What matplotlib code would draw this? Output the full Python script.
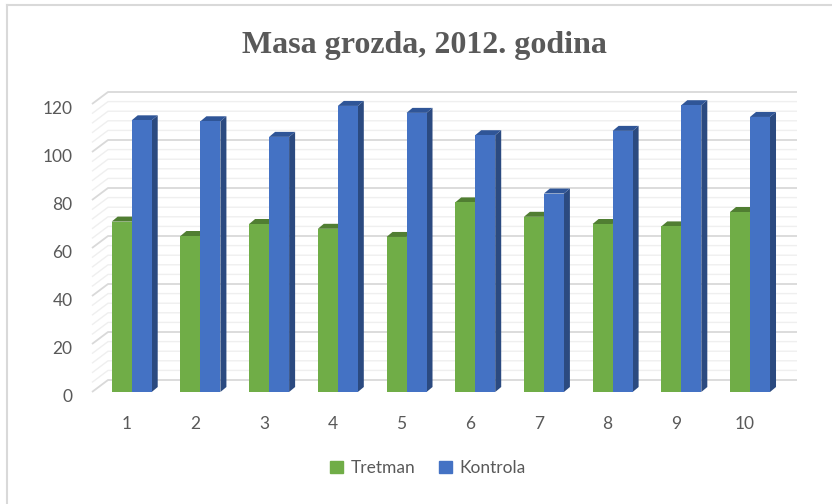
import matplotlib.pyplot as plt
import matplotlib.lines as mlines
import matplotlib.patches as mpatches
from matplotlib.transforms import ScaledTranslation
import numpy as np

# data
categories = ['1', '2', '3', '4', '5', '6', '7', '8', '9', '10']
tretman = [71, 65, 70, 68, 64.6, 79, 73, 70, 69, 75]
kontrola = [113.2, 112.8, 106.3, 119.2, 116.3, 107, 82.7, 108.8, 119.5, 114.6]

green, green_top = '#70AD47', '#507E32'
blue, blue_top, blue_side = '#4472C4', '#2F5597', '#2B4A80'
text_col = '#595959'

fig = plt.figure(figsize=(8.32, 5.04), dpi=100)
W, H = 832, 504

# axes placed in pixels: left 92, right 797, y=0 at 392 from top, 2.4 px per unit
ymax = 125
ax = fig.add_axes([92 / W, (H - 392) / H, 705 / W, 2.4 * ymax / H])
xlo, xhi = 0.422, 10.684
ax.set_xlim(xlo, xhi)
ax.set_ylim(0, ymax)

px_x = 1 / 68.7   # data units per pixel in x
px_y = 1 / 2.4    # data units per pixel in y

# back wall gridlines with slanted side wall part
wall_dx, wall_dy = 16 * px_x, 12 * px_y
for v in range(0, 121, 4):
    major = v % 20 == 0
    col = '#D9D9D9' if major else '#EFEFEF'
    lw = 1.3 if major else 1.0
    ax.plot([xlo, xlo + wall_dx, xhi], [v, v + wall_dy, v + wall_dy],
            color=col, lw=lw, zorder=0, clip_on=False, solid_capstyle='butt')

x = np.arange(1, len(categories) + 1)
w = 20 * px_x
ddx, ddy = 6 * px_x, 5 * px_y


def bar3d(xl, h, front, top, side):
    xr = xl + w
    ax.add_patch(mpatches.Polygon([(xr, 0), (xr, h), (xr + ddx, h + ddy), (xr + ddx, ddy)],
                                  closed=True, fc=side, ec='none', zorder=2))
    ax.add_patch(mpatches.Polygon([(xl, h), (xr, h), (xr + ddx, h + ddy), (xl + ddx, h + ddy)],
                                  closed=True, fc=top, ec='none', zorder=2))
    ax.add_patch(mpatches.Rectangle((xl, 0), w, h, fc=front, ec='none', zorder=3))


for i in range(len(categories)):
    bar3d(x[i] - w, tretman[i], green, green_top, green_top)
    bar3d(x[i], kontrola[i], blue, blue_top, blue_side)

for s in ax.spines.values():
    s.set_visible(False)

ax.set_xticks(x)
ax.set_xticklabels(categories)
ax.set_yticks(range(0, 121, 20))
ax.tick_params(length=0, colors=text_col, labelsize=12.5)
ax.tick_params(axis='x', pad=17)
ax.tick_params(axis='y', pad=14)
for lab in ax.get_xticklabels() + ax.get_yticklabels():
    lab.set_fontfamily('Lato')
for lab in ax.get_xticklabels():
    lab.set_transform(lab.get_transform() + ScaledTranslation(-5 / 100, 0, fig.dpi_scale_trans))
for lab in ax.get_yticklabels():
    lab.set_transform(lab.get_transform() + ScaledTranslation(0, -3 / 100, fig.dpi_scale_trans))

fig.text(424 / W, 1 - 45 / H, 'Masa grozda, 2012. godina', ha='center', va='center',
         fontsize=23, fontweight='bold', family='Liberation Serif', color=text_col)

handles = [mpatches.Patch(color=green, label='Tretman'),
           mpatches.Patch(color=blue, label='Kontrola')]
leg = fig.legend(handles=handles, loc='center', bbox_to_anchor=(428 / W, 1 - 468 / H), ncol=2,
                 frameon=False, handlelength=0.75, handleheight=0.75, handletextpad=0.4,
                 columnspacing=1.4, prop={'family': 'Lato', 'size': 12.5})
for t in leg.get_texts():
    t.set_color(text_col)

# chart border (top and left visible)
fig.add_artist(mlines.Line2D([7 / W, 1], [1 - 5 / H, 1 - 5 / H], color='#D9D9D9', lw=1.5))
fig.add_artist(mlines.Line2D([7 / W, 7 / W], [0, 1 - 5 / H], color='#D9D9D9', lw=1.5))

fig.savefig('out.png', dpi=100)
